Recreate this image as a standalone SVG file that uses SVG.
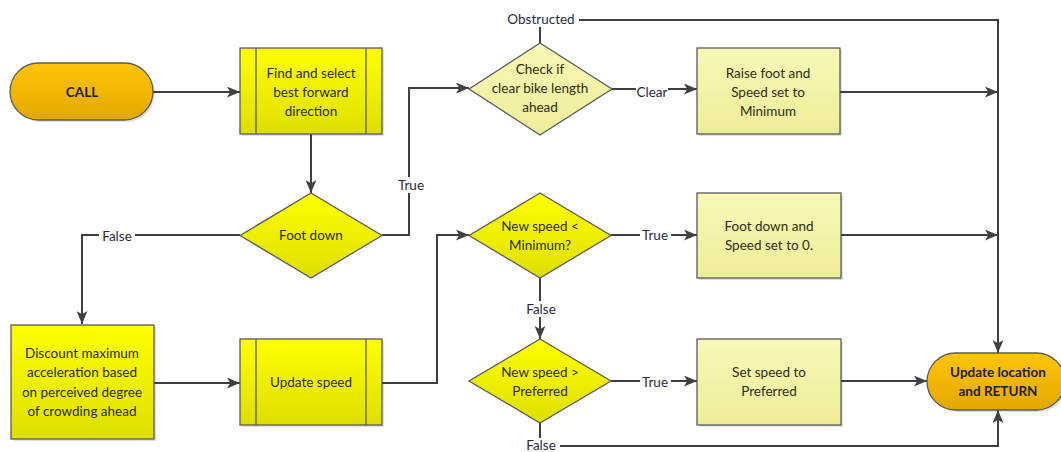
<svg xmlns="http://www.w3.org/2000/svg" width="1061" height="452" viewBox="0 0 1061 452">
<defs>
<linearGradient id="gOrange" x1="0" y1="0" x2="0" y2="1"><stop offset="0" stop-color="#FFC50A"/><stop offset="1" stop-color="#E2A700"/></linearGradient>
<linearGradient id="gYellow" x1="0" y1="0" x2="0" y2="1"><stop offset="0" stop-color="#FFFF00"/><stop offset="1" stop-color="#DEDE00"/></linearGradient>
<linearGradient id="gLight" x1="0" y1="0" x2="0" y2="1"><stop offset="0" stop-color="#F8F8B8"/><stop offset="1" stop-color="#EDED98"/></linearGradient>
<marker id="ah" viewBox="0 0 12 10" refX="12" refY="5" markerWidth="13" markerHeight="11" markerUnits="userSpaceOnUse" orient="auto"><path d="M0,0 L12,5 L0,10 L3,5 z" fill="#404040"/></marker>
</defs>
<style>
.shape{stroke:#5a5a5a;stroke-width:1.3}
.term{fill:url(#gOrange)}
.yel{fill:url(#gYellow)}
.lt{fill:url(#gLight)}
.shadow{fill:#000;opacity:0.12}
.t{font-family:Lato,"Open Sans","Liberation Sans",sans-serif;font-size:13.5px;text-anchor:middle;fill:#2e2e10}
.tb{font-family:Lato,"Open Sans","Liberation Sans",sans-serif;font-size:13.5px;font-weight:bold;text-anchor:middle;fill:#222}
.lbl{font-family:Lato,"Open Sans","Liberation Sans",sans-serif;font-size:13.5px;text-anchor:middle;fill:#2a2a40}
.c{fill:none;stroke:#404040;stroke-width:2}
.bg{fill:#fff}
</style>
<rect width="1061" height="452" fill="#fff"/>

<g id="connectors">
<path class="c" d="M153,92 H240" marker-end="url(#ah)"/>
<path class="c" d="M311,134 V193" marker-end="url(#ah)"/>
<path class="c" d="M240,235 H82 V324" marker-end="url(#ah)"/>
<path class="c" d="M382,235 H409 V88 H469" marker-end="url(#ah)"/>
<path class="c" d="M154,383 H240" marker-end="url(#ah)"/>
<path class="c" d="M382,383 H437 V235 H469" marker-end="url(#ah)"/>
<path class="c" d="M540,43 V20 H998 V353" marker-end="url(#ah)"/>
<path class="c" d="M612,89 H697" marker-end="url(#ah)"/>
<path class="c" d="M840,92 H998" marker-end="url(#ah)"/>
<path class="c" d="M611,235 H697" marker-end="url(#ah)"/>
<path class="c" d="M841,235 H998" marker-end="url(#ah)"/>
<path class="c" d="M540,278 V339" marker-end="url(#ah)"/>
<path class="c" d="M611,381 H697" marker-end="url(#ah)"/>
<path class="c" d="M841,381 H927" marker-end="url(#ah)"/>
<path class="c" d="M540,423 V446 H998 V410" marker-end="url(#ah)"/>
<rect class="bg" x="99" y="228" width="36" height="16"/>
<text class="lbl" x="117" y="241">False</text>
<rect class="bg" x="397" y="177" width="28" height="16"/>
<text class="lbl" x="411" y="190">True</text>
<rect class="bg" x="503" y="11" width="76" height="16"/>
<text class="lbl" x="541" y="24">Obstructed</text>
<rect class="bg" x="636" y="84" width="32" height="16"/>
<text class="lbl" x="652" y="97">Clear</text>
<rect class="bg" x="640" y="228" width="31" height="16"/>
<text class="lbl" x="655" y="240">True</text>
<rect class="bg" x="523" y="301" width="36" height="16"/>
<text class="lbl" x="541" y="314">False</text>
<rect class="bg" x="640" y="374" width="31" height="16"/>
<text class="lbl" x="655" y="387">True</text>
<rect class="bg" x="522" y="438" width="38" height="14"/>
<text class="lbl" x="541" y="450">False</text>
</g>

<g id="call">
<rect class="shadow" x="12" y="65" width="143" height="57" rx="28.5"/>
<rect class="shape term" x="10" y="63" width="143" height="57" rx="28.5"/>
<text class="tb" x="82" y="97">CALL</text>
</g>

<g id="find">
<rect class="shadow" x="242" y="50" width="142" height="86"/>
<rect class="shape yel" x="240" y="48" width="142" height="86"/>
<path class="shape" d="M256,48 V134 M366,48 V134" fill="none"/>
<text class="t" x="311" y="78">Find and select</text>
<text class="t" x="311" y="97">best forward</text>
<text class="t" x="311" y="116">direction</text>
</g>

<g id="footdown">
<path class="shape yel" d="M311,193 L382,235.5 L311,278 L240,235.5 Z"/>
<text class="t" x="311" y="240">Foot down</text>
</g>

<g id="discount">
<rect class="shadow" x="13" y="327" width="143" height="114"/>
<rect class="shape yel" x="11" y="325" width="143" height="114"/>
<text class="t" x="82" y="358">Discount maximum</text>
<text class="t" x="82" y="377">acceleration based</text>
<text class="t" x="82" y="397">on perceived degree</text>
<text class="t" x="82" y="416">of crowding ahead</text>
</g>

<g id="updatespeed">
<rect class="shadow" x="242" y="341" width="142" height="86"/>
<rect class="shape yel" x="240" y="339" width="142" height="86"/>
<path class="shape" d="M256,339 V425 M366,339 V425" fill="none"/>
<text class="t" x="311" y="387">Update speed</text>
</g>

<g id="check">
<path class="shape lt" d="M540,43 L612,89 L540,135 L469,89 Z"/>
<text class="t" x="540" y="74">Check if</text>
<text class="t" x="540" y="93">clear bike length</text>
<text class="t" x="540" y="112">ahead</text>
</g>

<g id="raise">
<rect class="shadow" x="699" y="50" width="143" height="86"/>
<rect class="shape lt" x="697" y="48" width="143" height="86"/>
<text class="t" x="768" y="78">Raise foot and</text>
<text class="t" x="768" y="97">Speed set to</text>
<text class="t" x="768" y="116">Minimum</text>
</g>

<g id="minimum">
<path class="shape yel" d="M540,193 L611,235.5 L540,278 L469,235.5 Z"/>
<text class="t" x="540" y="231">New speed &lt;</text>
<text class="t" x="540" y="250">Minimum?</text>
</g>

<g id="footdown0">
<rect class="shadow" x="699" y="195" width="144" height="85"/>
<rect class="shape lt" x="697" y="193" width="144" height="85"/>
<text class="t" x="769" y="231">Foot down and</text>
<text class="t" x="769" y="250">Speed set to 0.</text>
</g>

<g id="preferred">
<path class="shape yel" d="M540,339 L611,381 L540,423 L469,381 Z"/>
<text class="t" x="540" y="377">New speed &gt;</text>
<text class="t" x="540" y="396">Preferred</text>
</g>

<g id="setspeed">
<rect class="shadow" x="699" y="341" width="144" height="86"/>
<rect class="shape lt" x="697" y="339" width="144" height="86"/>
<text class="t" x="769" y="377">Set speed to</text>
<text class="t" x="769" y="396">Preferred</text>
</g>

<g id="return">
<rect class="shadow" x="929" y="355" width="138" height="57" rx="28.5"/>
<rect class="shape term" x="927" y="353" width="138" height="57" rx="28.5"/>
<text class="tb" x="998" y="377">Update location</text>
<text class="tb" x="998" y="396">and RETURN</text>
</g>
</svg>
